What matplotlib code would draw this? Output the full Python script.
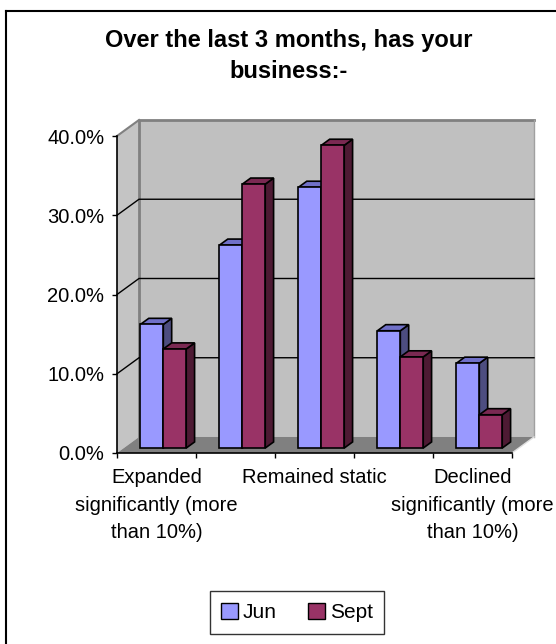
"""Clustered 3-D style column chart: business change over the last 3 months."""

import matplotlib.pyplot as plt
from matplotlib.lines import Line2D
from matplotlib.patches import Patch, Polygon

plt.rcParams["font.family"] = ["Liberation Sans", "DejaVu Sans"]

categories = [
    "Expanded\nsignificantly (more\nthan 10%)",
    "",
    "Remained static",
    "",
    "Declined\nsignificantly (more\nthan 10%)",
]
series_names = ["Jun", "Sept"]
jun = [15.6, 25.6, 32.9, 14.8, 10.7]
sept = [12.5, 33.3, 38.2, 11.5, 4.2]
y_ticks = [0, 10, 20, 30, 40]
title = "Over the last 3 months, has your\nbusiness:-"

# face colours: front, top, side
colours = {
    "Jun": ("#9999FF", "#7070C8", "#4D4D80"),
    "Sept": ("#993366", "#7A2952", "#4D1A33"),
}

W, H = 556, 644
fig = plt.figure(figsize=(W / 100, H / 100), dpi=100)
ax = fig.add_axes([117 / W, 1 - 453 / H, 395 / W, 317 / H])
n = len(categories)
ymax = y_ticks[-1]
ax.set_xlim(-0.5, n - 0.5)
ax.set_ylim(0, ymax)

# oblique depth of the plot box, in data units
DX, DY = 0.2785, 2.02
x0, x1 = -0.5, n - 0.5

def poly(pts, **kw):
    p = Polygon(pts, closed=True, clip_on=False, **kw)
    ax.add_patch(p)
    return p

# walls and floor
poly([(x0 + DX, DY), (x1 + DX, DY), (x1 + DX, ymax + DY), (x0 + DX, ymax + DY)],
     facecolor="#C0C0C0", edgecolor="none", zorder=0)
poly([(x0, 0), (x0 + DX, DY), (x0 + DX, ymax + DY), (x0, ymax)],
     facecolor="#C4C4C4", edgecolor="none", zorder=0)
poly([(x0, 0), (x1, 0), (x1 + DX, DY), (x0 + DX, DY)],
     facecolor="#808080", edgecolor="none", zorder=1)
ax.plot([x0 + DX, x0 + DX, x1 + DX], [DY, ymax + DY, ymax + DY],
        color="#808080", lw=2, clip_on=False, zorder=1)
ax.plot([x0, x0 + DX], [ymax, ymax + DY], color="#808080", lw=1.5,
        clip_on=False, zorder=1)
ax.plot([x1 + DX, x1 + DX], [DY, ymax + DY], color="#A0A0A0", lw=1,
        clip_on=False, zorder=1)
ax.plot([x1, x1 + DX], [0, DY], color="#E0E0E0", lw=1, clip_on=False, zorder=1)

# gridlines on back wall and side wall
for v in y_ticks[1:-1]:
    ax.plot([x0, x0 + DX, x1 + DX], [v, v + DY, v + DY], color="black",
            lw=1, clip_on=False, zorder=1.5)

# bars
bar_w = 0.29
f0, f1 = 0.31, 0.69
bd = f1 - f0
z = 3
for i in range(n):
    for k, (name, vals) in enumerate(zip(series_names, [jun, sept])):
        front, top, side = colours[name]
        v = vals[i]
        left = i - bar_w + k * bar_w + f0 * DX
        right = left + bar_w
        base = f0 * DY
        poly([(right, base), (right + bd * DX, base + bd * DY),
              (right + bd * DX, base + v + bd * DY), (right, base + v)],
             facecolor=side, edgecolor="black", lw=1.2, zorder=z)
        poly([(left, base + v), (right, base + v),
              (right + bd * DX, base + v + bd * DY), (left + bd * DX, base + v + bd * DY)],
             facecolor=top, edgecolor="black", lw=1.2, zorder=z + 0.1)
        ax.bar(left, v, width=bar_w, bottom=base, align="edge", color=front,
               edgecolor="black", lw=1.2, zorder=z + 0.2, clip_on=False)
        z += 1

# axes
for s in ["top", "right"]:
    ax.spines[s].set_visible(False)
for s in ["left", "bottom"]:
    ax.spines[s].set_color("black")
    ax.spines[s].set_linewidth(1.2)
    ax.spines[s].set_zorder(50)
ax.set_facecolor("none")
ax.set_yticks(y_ticks)
ax.set_yticklabels([f"{t:.1f}%" for t in y_ticks])
ax.tick_params(axis="y", length=3.6, width=1, pad=5.5, labelsize=14.5)
ax.set_xticks(range(n))
ax.set_xticklabels(categories, fontsize=14.5, linespacing=1.55)
ax.tick_params(axis="x", which="major", length=0, pad=11)
ax.set_xticks([i - 0.5 for i in range(n + 1)], minor=True)
ax.tick_params(axis="x", which="minor", length=3.6, width=1)

fig.text(289 / W, 1 - 56 / H, title, ha="center", va="center",
         fontsize=17, fontweight="bold", linespacing=1.5)

handles = [Patch(facecolor=colours[s][0], edgecolor="black", lw=1) for s in series_names]
leg = fig.legend(handles, series_names, loc="center", bbox_to_anchor=(297 / W, 1 - 612.5 / H),
                 ncol=2, fontsize=15, frameon=True, fancybox=False,
                 handlelength=0.8, handleheight=0.8, handletextpad=0.25,
                 columnspacing=1.5, borderpad=0.55, borderaxespad=0)
leg.get_frame().set_edgecolor("black")
leg.get_frame().set_linewidth(1)

# outer chart border (left and top edges fall inside the image)
bx, by = 5.5 / W, 1 - 10.5 / H
fig.add_artist(Line2D([bx, bx], [0, by], color="black", lw=1.5, transform=fig.transFigure))
fig.add_artist(Line2D([bx, 1], [by, by], color="black", lw=1.5, transform=fig.transFigure))

fig.savefig("out.png", dpi=100)
